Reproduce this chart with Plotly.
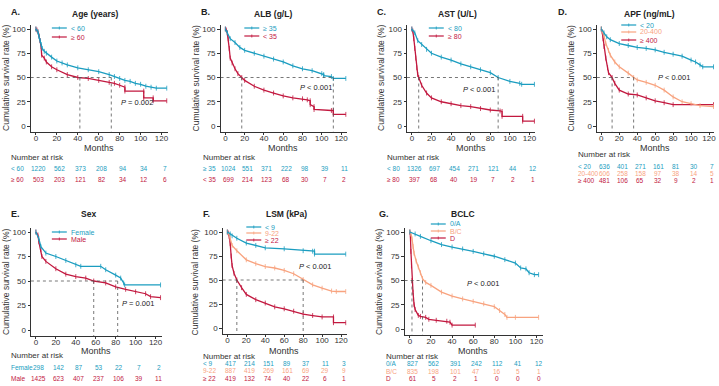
import plotly.graph_objects as go

W, H = 719, 386
BLUE = "#1b9dc0"
RED = "#c2183f"
SALMON = "#f8a37f"
AX = "#333333"
FONT = "Arial, Liberation Sans, Helvetica, sans-serif"

tick_months = [0, 20, 40, 60, 80, 100, 120]
survival_ticks = [0, 25, 50, 75, 100]

# ---------------- A. Age ----------------
A_title = "Age (years)"
A_groups = ["< 60", "≥ 60"]
A_t1 = [0, 2, 3, 4, 5, 6, 8, 10, 15, 20, 25, 30, 40, 50, 60, 70, 75, 80, 85, 90, 95, 100, 105, 110, 115, 125]
A_s1 = [100, 97, 92, 88, 84, 80, 77, 75, 71, 67, 65, 63, 60, 58, 56, 53, 51, 49, 47, 46, 44, 43, 41, 40, 39, 39]
A_t2 = [0, 1, 2, 3, 4, 5, 5.5, 8, 10, 15, 20, 30, 40, 50, 60, 70, 75, 80, 85, 85, 103, 103, 112, 112, 125]
A_s2 = [100, 99, 97, 93, 88, 82, 73, 70, 66, 61, 58, 53, 50, 49, 47, 45, 44, 42, 40, 36, 36, 29, 29, 26, 26]
A_risk1 = [1220, 562, 373, 208, 94, 34, 7]
A_risk2 = [503, 203, 121, 82, 34, 12, 6]
A_medians = [42, 72]
A_p = "<i>P</i> = 0.002"

# ---------------- B. ALB ----------------
B_title = "ALB (g/L)"
B_groups = ["≥ 35", "< 35"]
B_t1 = [0, 2, 5, 10, 15, 20, 30, 40, 50, 60, 70, 80, 90, 100, 102, 102, 110, 112, 125]
B_s1 = [100, 96, 90, 86, 81, 78, 75, 72, 69, 66, 62, 59, 57, 54, 53, 52, 51, 49, 49]
B_t2 = [0, 1, 2, 3, 4, 5, 7, 10, 13, 17, 20, 30, 40, 50, 60, 70, 80, 85, 88, 88, 92, 92, 110, 112, 112, 125]
B_s2 = [100, 99, 96, 90, 80, 70, 65, 59, 54, 50, 47, 41, 37, 34, 31, 29, 28, 27, 26, 22, 20, 17, 16, 16, 12, 12]
B_risk1 = [1024, 551, 371, 222, 98, 39, 11]
B_risk2 = [699, 214, 123, 68, 30, 7, 2]
B_medians = [17, 112]
B_p = "<i>P</i> < 0.001"

# ---------------- C. AST ----------------
C_title = "AST (U/L)"
C_groups = ["< 80", "≥ 80"]
C_t1 = [0, 3, 6, 10, 15, 20, 30, 40, 50, 60, 70, 80, 88, 100, 110, 112, 125]
C_s1 = [100, 96, 88, 84, 79, 75, 71, 68, 64, 61, 58, 55, 50, 46, 44, 43, 43]
C_t2 = [0, 1, 2, 3, 4, 5, 6, 7, 10, 15, 20, 30, 40, 50, 60, 70, 80, 90, 92, 92, 113, 113, 125]
C_s2 = [100, 98, 90, 80, 70, 60, 53, 50, 42, 34, 29, 25, 23, 21, 20, 18, 16.5, 15.5, 15, 10, 10, 5, 5]
C_risk1 = [1326, 697, 454, 271, 121, 44, 12]
C_risk2 = [397, 68, 40, 19, 7, 2, 1]
C_medians = [7, 88]
C_p = "<i>P</i> < 0.001"

# ---------------- D. APF ----------------
D_title = "APF (ng/mL)"
D_groups = ["< 20", "20-400", "≥ 400"]
D_t1 = [0, 3, 6, 10, 20, 30, 40, 50, 60, 70, 80, 90, 100, 105, 110, 113, 125]
D_s1 = [100, 96, 92, 89, 85, 83, 81, 80, 78.5, 76, 74, 72, 68, 66, 63, 61, 61]
D_t2 = [0, 2, 3, 5, 8, 10, 15, 20, 30, 36, 40, 50, 60, 70, 80, 90, 100, 110, 125]
D_s2 = [100, 96, 93, 85, 78, 73, 66, 61, 54.5, 50, 47.5, 45, 42, 37, 30, 25, 23, 21, 20]
D_t3 = [0, 1, 2, 3, 5, 7, 8, 12, 15, 20, 30, 40, 50, 60, 70, 80, 125]
D_s3 = [100, 97, 90, 82, 70, 60, 55, 50, 44, 37, 33, 32, 29, 26, 24, 22, 22]
D_risk1 = [636, 401, 271, 161, 81, 30, 7]
D_risk2 = [606, 258, 158, 97, 38, 14, 5]
D_risk3 = [481, 106, 65, 32, 9, 2, 1]
D_medians = [12, 36]
D_p = "<i>P</i> < 0.001"

# ---------------- E. Sex ----------------
E_title = "Sex"
E_groups = ["Female", "Male"]
E_t1 = [0, 3, 5, 10, 20, 30, 40, 45, 65, 70, 80, 85, 88, 89, 125]
E_s1 = [100, 93, 85, 78.5, 75, 71, 66.5, 65, 65, 61.5, 56, 53, 48, 46, 46]
E_t2 = [0, 2, 3, 5, 6, 10, 20, 30, 40, 50, 58, 70, 80, 90, 100, 110, 115, 125]
E_s2 = [100, 97, 90, 82, 75, 70, 62.5, 57, 54.5, 53, 50, 48, 44, 41.5, 39, 37, 34, 33]
E_risk1 = [298, 142, 87, 53, 22, 7, 2]
E_risk2 = [1425, 623, 407, 237, 106, 39, 11]
E_medians = [58, 82]
E_p = "<i>P</i> = 0.001"

# ---------------- F. LSM ----------------
F_title = "LSM (kPa)"
F_groups = ["< 9", "9-22", "≥ 22"]
F_t1 = [0, 3, 5, 10, 20, 30, 40, 60, 80, 90, 92, 92, 125]
F_s1 = [100, 98, 96, 93.5, 88.5, 86, 83.5, 82.5, 80.5, 80, 80, 77, 77]
F_t2 = [0, 2, 3, 5, 10, 20, 30, 40, 50, 60, 70, 80, 90, 100, 110, 115, 125]
F_s2 = [100, 97, 93, 86, 80.5, 71, 67, 64, 62.5, 60, 56.5, 50.5, 45, 41.5, 38.5, 38, 38]
F_t3 = [0, 1, 2, 3, 4, 5, 7, 10, 15, 20, 30, 40, 50, 60, 70, 80, 90, 100, 112, 112, 125]
F_s3 = [100, 99, 95, 88, 75, 65, 57, 50, 42, 35, 29.5, 26, 22, 20, 17.5, 14.5, 13, 11.5, 11.5, 5.5, 5.5]
F_risk1 = [417, 214, 151, 89, 37, 11, 3]
F_risk2 = [887, 419, 269, 161, 69, 29, 9]
F_risk3 = [419, 132, 74, 40, 22, 6, 1]
F_medians = [10, 80]
F_p = "<i>P</i> < 0.001"

# ---------------- G. BCLC ----------------
G_title = "BCLC"
G_groups = ["0/A", "B/C", "D"]
G_t1 = [0, 5, 10, 20, 30, 40, 50, 60, 70, 80, 90, 100, 105, 110, 113, 118, 122]
G_s1 = [100, 98, 95.5, 91, 87, 84.5, 82.5, 80, 77.5, 75, 71.5, 68, 63, 62, 58, 56, 56]
G_t2 = [0, 1, 2, 3, 4, 6, 8, 10, 12, 15, 20, 30, 40, 50, 60, 70, 80, 85, 90, 92, 100, 122]
G_s2 = [100, 98, 93, 85, 78, 70, 64, 58, 52, 48, 45, 38, 34, 31, 28.5, 26, 23, 19, 15, 12, 12, 12]
G_t3 = [0, 0.5, 1, 1.5, 2, 3, 4, 5, 8, 10, 15, 18, 25, 35, 38, 40, 62]
G_s3 = [100, 97, 80, 65, 50, 38, 25, 20, 14, 13, 12, 10, 9, 8, 7, 4, 4]
G_risk1 = [827, 562, 391, 242, 112, 41, 12]
G_risk2 = [835, 198, 101, 47, 16, 5, 1]
G_risk3 = [61, 5, 2, 1, 0, 0, 0]
G_medians = [2, 12]
G_p = "<i>P</i> < 0.001"

panels = [
    dict(letter="A.", title=A_title, groups=A_groups, colors=[BLUE, RED],
         curves=[(A_t1, A_s1), (A_t2, A_s2)], risk=[A_risk1, A_risk2], medians=A_medians, p=A_p,
         g=dict(x0=36, x120=162, y0=126, y100=29, letter=(9, 12), title=(95, 14), ytitle=(6, 78),
                months=147, leg_x=52, leg_y=[28, 37], p=(79, 24), rlab=9, risk_y=[157, 168, 179])),
    dict(letter="B.", title=B_title, groups=B_groups, colors=[BLUE, RED],
         curves=[(B_t1, B_s1), (B_t2, B_s2)], risk=[B_risk1, B_risk2], medians=B_medians, p=B_p,
         g=dict(x0=226, x120=342, y0=126, y100=29, letter=(200, 12), title=(274, 14), ytitle=(197, 78),
                months=147, leg_x=245, leg_y=[28, 36], p=(75, 40), rlab=202, risk_y=[157, 168, 179])),
    dict(letter="C.", title=C_title, groups=C_groups, colors=[BLUE, RED],
         curves=[(C_t1, C_s1), (C_t2, C_s2)], risk=[C_risk1, C_risk2], medians=C_medians, p=C_p,
         g=dict(x0=413, x120=531, y0=126, y100=29, letter=(376, 12), title=(459, 14), ytitle=(382, 78),
                months=147, leg_x=430, leg_y=[28, 36], p=(50, 38), rlab=386, risk_y=[157, 168, 179])),
    dict(letter="D.", title=D_title, groups=D_groups, colors=[BLUE, SALMON, RED],
         curves=[(D_t1, D_s1), (D_t2, D_s2), (D_t3, D_s3)], risk=[D_risk1, D_risk2, D_risk3],
         medians=D_medians, p=D_p,
         g=dict(x0=603, x120=711, y0=126, y100=29, letter=(558, 12), title=(651, 14), ytitle=(573, 78),
                months=147, leg_x=623, leg_y=[25, 32, 40], p=(61, 50), rlab=578, risk_y=[154, 166, 173, 180])),
    dict(letter="E.", title=E_title, groups=E_groups, colors=[BLUE, RED],
         curves=[(E_t1, E_s1), (E_t2, E_s2)], risk=[E_risk1, E_risk2], medians=E_medians, p=E_p,
         g=dict(x0=36, x120=156, y0=330, y100=232, letter=(9, 214), title=(89, 214), ytitle=(6, 282),
                months=350, leg_x=52, leg_y=[232, 239], p=(84, 27), rlab=9, risk_y=[355, 367, 378])),
    dict(letter="F.", title=F_title, groups=F_groups, colors=[BLUE, SALMON, RED],
         curves=[(F_t1, F_s1), (F_t2, F_s2), (F_t3, F_s3)], risk=[F_risk1, F_risk2, F_risk3],
         medians=F_medians, p=F_p,
         g=dict(x0=228, x120=342, y0=328, y100=232, letter=(202, 214), title=(287, 214), ytitle=(196, 282),
                months=350, leg_x=247, leg_y=[227, 233, 240], p=(74, 64), rlab=202, risk_y=[356, 363, 370, 378])),
    dict(letter="G.", title=G_title, groups=G_groups, colors=[BLUE, SALMON, RED],
         curves=[(G_t1, G_s1), (G_t2, G_s2), (G_t3, G_s3)], risk=[G_risk1, G_risk2, G_risk3],
         medians=G_medians, p=G_p,
         g=dict(x0=411, x120=538, y0=329, y100=232, letter=(378, 214), title=(464, 214), ytitle=(380, 282),
                months=350, leg_x=432, leg_y=[224, 231, 238], p=(52, 47), rlab=385, risk_y=[356, 363, 371, 378])),
]

XR = [-5, 126]
YR = [-6, 104]


def px(x):
    return x / W


def py(y):
    return 1 - y / H


fig = go.Figure()
annotations = []
shapes = []
layout_axes = {}

for i, pnl in enumerate(panels, start=1):
    g = pnl["g"]
    sx = (g["x120"] - g["x0"]) / 120.0
    sy = (g["y0"] - g["y100"]) / 100.0
    left = g["x0"] + XR[0] * sx
    right = g["x0"] + XR[1] * sx
    bottom = g["y0"] - YR[0] * sy
    top = g["y0"] - YR[1] * sy
    xa = "x" if i == 1 else f"x{i}"
    ya = "y" if i == 1 else f"y{i}"
    xname = "xaxis" if i == 1 else f"xaxis{i}"
    yname = "yaxis" if i == 1 else f"yaxis{i}"
    common = dict(showgrid=False, zeroline=False, showline=True, linecolor=AX, linewidth=0.8,
                  ticks="outside", ticklen=2.5, tickwidth=0.8, tickcolor=AX,
                  tickfont=dict(size=8, color=AX, family=FONT))
    layout_axes[xname] = dict(domain=[px(left), px(min(right, W))], range=XR, anchor=ya,
                              tickvals=tick_months, ticklabelstandoff=-4, **common)
    layout_axes[yname] = dict(domain=[py(bottom), py(top)], range=YR, anchor=xa,
                              tickvals=survival_ticks, **common)

    # median reference lines
    meds = pnl["medians"]
    shapes.append(dict(type="line", xref=xa, yref=ya, x0=XR[0], x1=max(meds), y0=50, y1=50,
                       line=dict(color="#555555", width=0.8, dash="dot")))
    for m in meds:
        shapes.append(dict(type="line", xref=xa, yref=ya, x0=m, x1=m, y0=50, y1=YR[0],
                           line=dict(color="#555555", width=0.8, dash="dot")))

    # curves (drawn in reverse so first group is on top)
    for (t, s), col, name in reversed(list(zip(pnl["curves"], pnl["colors"], pnl["groups"]))):
        fig.add_trace(go.Scatter(x=t, y=s, mode="lines+markers", name=name, xaxis=xa, yaxis=ya,
                                 line=dict(color=col, width=1.3),
                                 marker=dict(symbol="line-ns", size=3.5, line=dict(width=0.8, color=col)),
                                 showlegend=False, hoverinfo="skip"))

    # letter + title
    annotations.append(dict(text=f"<b>{pnl['letter']}</b>", x=px(g["letter"][0]), y=py(g["letter"][1]),
                            xref="paper", yref="paper", xanchor="left", yanchor="middle", showarrow=False,
                            font=dict(size=9, color="#222", family=FONT)))
    annotations.append(dict(text=f"<b>{pnl['title']}</b>", x=px(g["title"][0]), y=py(g["title"][1]),
                            xref="paper", yref="paper", xanchor="center", yanchor="middle", showarrow=False,
                            font=dict(size=8.5, color="#222", family=FONT)))
    annotations.append(dict(text="Cumulative survival rate (%)", x=px(g["ytitle"][0]), y=py(g["ytitle"][1]),
                            xref="paper", yref="paper", xanchor="center", yanchor="middle", showarrow=False,
                            textangle=-90, font=dict(size=8.5, color=AX, family=FONT)))
    annotations.append(dict(text="Months", x=60, y=py(g["months"] + 1), xref=xa, yref="paper",
                            xanchor="center", yanchor="middle", showarrow=False,
                            font=dict(size=9, color=AX, family=FONT)))
    annotations.append(dict(text=pnl["p"], x=g["p"][0], y=g["p"][1], xref=xa, yref=ya,
                            xanchor="left", yanchor="middle", showarrow=False,
                            font=dict(size=7.5, color="#222", family=FONT)))

    # legend
    for name, col, ly in zip(pnl["groups"], pnl["colors"], g["leg_y"]):
        shapes.append(dict(type="line", xref="paper", yref="paper", x0=px(g["leg_x"]), x1=px(g["leg_x"] + 15),
                           y0=py(ly), y1=py(ly), line=dict(color=col, width=1.2)))
        shapes.append(dict(type="line", xref="paper", yref="paper", x0=px(g["leg_x"] + 7.5),
                           x1=px(g["leg_x"] + 7.5), y0=py(ly - 1.5), y1=py(ly + 1.5),
                           line=dict(color=col, width=0.8)))
        annotations.append(dict(text=name, x=px(g["leg_x"] + 17), y=py(ly), xref="paper", yref="paper",
                                xanchor="left", yanchor="middle", showarrow=False,
                                font=dict(size=7, color=col, family=FONT)))

    # number at risk table
    annotations.append(dict(text="Number at risk", x=px(g["rlab"]), y=py(g["risk_y"][0]), xref="paper",
                            yref="paper", xanchor="left", yanchor="middle", showarrow=False,
                            font=dict(size=8, color=AX, family=FONT)))
    for name, col, row, ry in zip(pnl["groups"], pnl["colors"], pnl["risk"], g["risk_y"][1:]):
        annotations.append(dict(text=name, x=px(g["rlab"]), y=py(ry), xref="paper", yref="paper",
                                xanchor="left", yanchor="middle", showarrow=False,
                                font=dict(size=6.5, color=col, family=FONT)))
        for m, v in zip(tick_months, row):
            annotations.append(dict(text=str(v), x=m, y=py(ry), xref=xa, yref="paper", xshift=3,
                                    xanchor="center", yanchor="middle", showarrow=False,
                                    font=dict(size=6.5, color=col, family=FONT)))

fig.update_layout(width=W, height=H, margin=dict(l=0, r=0, t=0, b=0),
                  paper_bgcolor="white", plot_bgcolor="white", showlegend=False,
                  annotations=annotations, shapes=shapes, font=dict(family=FONT),
                  **layout_axes)

fig.write_html("out.html", config={"displayModeBar": False},
               post_script="document.body.style.margin='0';document.body.style.padding='0';")
